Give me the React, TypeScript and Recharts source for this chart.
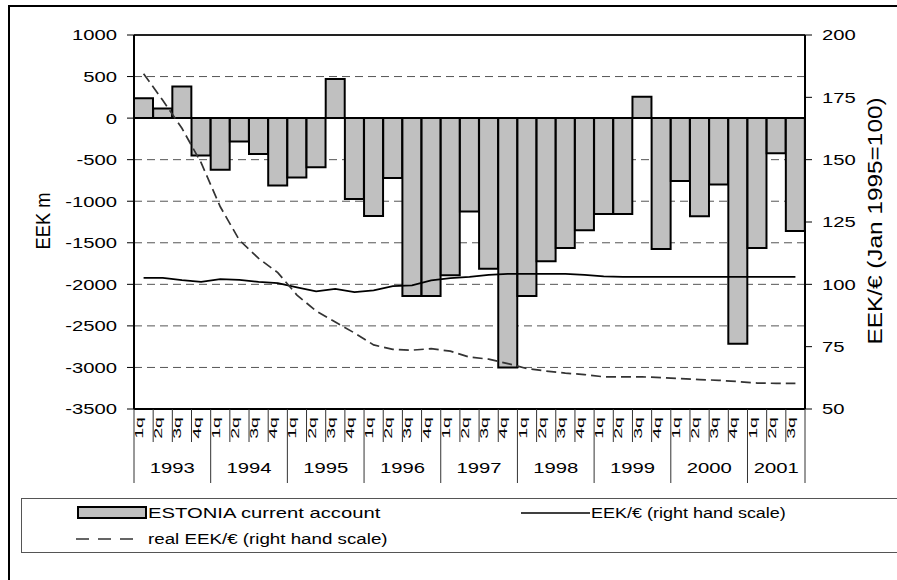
import React from "react";
import {
  ComposedChart,
  Bar,
  Line,
  XAxis,
  YAxis,
  CartesianGrid,
  ReferenceLine,
} from "recharts";

const years = ["1993", "1994", "1995", "1996", "1997", "1998", "1999", "2000", "2001"];
const quarterNames = ["1q", "2q", "3q", "4q"];

// EEK m, quarterly
const currentAccount = [
  240, 115, 380, -450,
  -620, -280, -432, -812,
  -716, -592, 470, -973,
  -1178, -720, -2140, -2140,
  -1892, -1125, -1811, -3000,
  -2140, -1723, -1564, -1350,
  -1155, -1155, 258, -1576,
  -757, -1180, -800, -2714,
  -1564, -424, -1358,
];

// Jan 1995 = 100
const eekIndex = [
  102.6, 102.6, 101.7, 101.0,
  102.1, 101.8, 101.0, 100.5,
  98.8, 97.2, 98.2, 96.9,
  97.6, 99.3, 99.6, 101.6,
  102.5, 103.0, 103.8, 104.2,
  104.2, 104.2, 104.2, 103.8,
  103.2, 103.0, 103.0, 103.0,
  103.0, 103.0, 103.0, 103.0,
  103.0, 103.0, 103.0,
];

const realEekIndex = [
  184.5, 173.8, 162.6, 148.8,
  131.1, 117.7, 110.4, 104.7,
  95.7, 89.3, 84.9, 80.5,
  75.7, 73.9, 73.6, 74.2,
  73.2, 70.8, 70.0, 68.2,
  66.2, 65.2, 64.4, 63.8,
  62.9, 62.9, 62.9, 62.6,
  62.2, 61.8, 61.5, 61.0,
  60.4, 60.3, 60.3,
];

const leftTicks = [-3500, -3000, -2500, -2000, -1500, -1000, -500, 0, 500, 1000];
const rightTicks = [50, 75, 100, 125, 150, 175, 200];

const rows = currentAccount.map((ca, i) => ({
  key: `${years[Math.floor(i / 4)]}-${quarterNames[i % 4]}`,
  year: years[Math.floor(i / 4)],
  q: quarterNames[i % 4],
  ca,
  eek: eekIndex[i],
  real: realEekIndex[i],
}));

const W = 897;
const H = 580;
const PLOT_LEFT = 134;
const PLOT_RIGHT = 805;
const PLOT_TOP = 35;
const PLOT_BOTTOM = 409;
const BAND = (PLOT_RIGHT - PLOT_LEFT) / rows.length;
const Q_SEP_BOTTOM = 442;
const YEAR_SEP_BOTTOM = 483;
const FONT = '"Liberation Sans", Arial, sans-serif';

function SText({ x, y, sx = 1, sy = 1, rotate = 0, anchor = "start", size = 15, dy, children }: any) {
  return (
    <text
      transform={`translate(${x},${y}) scale(${sx},${sy}) rotate(${rotate})`}
      textAnchor={anchor}
      fontSize={size}
      fontFamily={FONT}
      fill="#000"
      dy={dy}
    >
      {children}
    </text>
  );
}

const LeftTick = ({ x, y, payload }: any) => (
  <SText x={x} y={y} sx={1.35} anchor="end" dy="0.36em">
    {payload.value}
  </SText>
);

const RightTick = ({ x, y, payload }: any) => (
  <SText x={x} y={y} sx={1.35} anchor="start" dy="0.36em">
    {payload.value}
  </SText>
);

function QuarterTick({ x, payload, index }: any) {
  const i = payload?.index ?? index;
  const row = rows[i];
  if (!row) return null;
  const left = x - BAND / 2;
  const first = row.q === "1q";
  const last = i === rows.length - 1;
  const inYear = rows.filter((r) => r.year === row.year).length;
  return (
    <g>
      <line x1={left} x2={left} y1={PLOT_BOTTOM} y2={first ? YEAR_SEP_BOTTOM : Q_SEP_BOTTOM} stroke="#333" strokeWidth={1} />
      {last && (
        <line x1={left + BAND} x2={left + BAND} y1={PLOT_BOTTOM} y2={YEAR_SEP_BOTTOM} stroke="#333" strokeWidth={1} />
      )}
      <SText x={x - 0.5} y={428} sy={1.7} rotate={-90} anchor="middle" size={11.5}>
        {row.q}
      </SText>
      {first && (
        <SText x={left + (inYear * BAND) / 2} y={468} sx={1.35} anchor="middle" dy="0.36em">
          {row.year}
        </SText>
      )}
    </g>
  );
}

export default function App() {
  return (
    <div style={{ position: "absolute", left: 0, top: 0, width: W, height: H, overflow: "hidden", background: "#fff" }}>
      <div
        style={{
          position: "absolute",
          left: 8,
          top: 5,
          width: 1000,
          height: 1000,
          borderLeft: "2px solid #000",
          borderTop: "2px solid #000",
        }}
      />
      <div style={{ position: "absolute", left: 0, top: 0 }}>
        <ComposedChart
          width={W}
          height={H}
          data={rows}
          margin={{ top: PLOT_TOP, right: W - PLOT_RIGHT - 60, bottom: H - PLOT_BOTTOM - 80, left: PLOT_LEFT - 60 }}
          barCategoryGap={0}
          barGap={0}
        >
          <CartesianGrid
            yAxisId="left"
            vertical={false}
            stroke="#555"
            strokeDasharray="8 5"
            strokeWidth={1}
          />
          <XAxis
            dataKey="key"
            interval={0}
            height={80}
            tickLine={false}
            axisLine={{ stroke: "#000", strokeWidth: 2 }}
            tick={<QuarterTick />}
          />
          <YAxis
            yAxisId="left"
            width={60}
            domain={[-3500, 1000]}
            ticks={leftTicks}
            interval={0}
            tickSize={7}
            tickMargin={10}
            tickLine={{ stroke: "#000", strokeWidth: 1 }}
            axisLine={{ stroke: "#000", strokeWidth: 2 }}
            tick={<LeftTick />}
            allowDataOverflow
          />
          <YAxis
            yAxisId="right"
            orientation="right"
            width={60}
            domain={[50, 200]}
            ticks={rightTicks}
            interval={0}
            tickSize={7}
            tickMargin={10}
            tickLine={{ stroke: "#000", strokeWidth: 1 }}
            axisLine={{ stroke: "#000", strokeWidth: 2 }}
            tick={<RightTick />}
            allowDataOverflow
          />
          <ReferenceLine yAxisId="left" y={1000} stroke="#222" strokeWidth={2} />
          <Bar
            yAxisId="left"
            dataKey="ca"
            fill="#c0c0c0"
            stroke="#000"
            strokeWidth={2}
            isAnimationActive={false}
          />
          <ReferenceLine yAxisId="left" y={0} stroke="#000" strokeWidth={2} />
          <Line
            yAxisId="right"
            dataKey="eek"
            type="linear"
            stroke="#000"
            strokeWidth={1.7}
            dot={false}
            isAnimationActive={false}
          />
          <Line
            yAxisId="right"
            dataKey="real"
            type="linear"
            stroke="#333"
            strokeWidth={1.7}
            strokeDasharray="10 5"
            dot={false}
            isAnimationActive={false}
          />
        </ComposedChart>
      </div>
      <svg width={W} height={H} style={{ position: "absolute", left: 0, top: 0, pointerEvents: "none" }}>
        <SText x={50} y={221} rotate={-90} anchor="middle" size={18.3} sx={1.15}>
          EEK m
        </SText>
        <SText x={882} y={221} rotate={-90} anchor="middle" size={19.5} sy={1.25}>
          EEK/€ (Jan 1995=100)
        </SText>

        <rect x={21.5} y={498.5} width={900} height={54} fill="#fff" stroke="#555" strokeWidth={1} />
        <rect x={78} y={507} width={68} height={11} fill="#c0c0c0" stroke="#000" strokeWidth={2} />
        <SText x={148} y={512.5} sx={1.35} dy="0.36em">ESTONIA current account</SText>
        <line x1={521} x2={590} y1={513} y2={513} stroke="#000" strokeWidth={1.7} />
        <SText x={591} y={512.5} sx={1.2} dy="0.36em">EEK/€ (right hand scale)</SText>
        <line x1={76} x2={140} y1={539} y2={539} stroke="#333" strokeWidth={1.7} strokeDasharray="13 9" />
        <SText x={148} y={538.5} sx={1.25} dy="0.36em">real EEK/€ (right hand scale)</SText>
      </svg>
    </div>
  );
}
